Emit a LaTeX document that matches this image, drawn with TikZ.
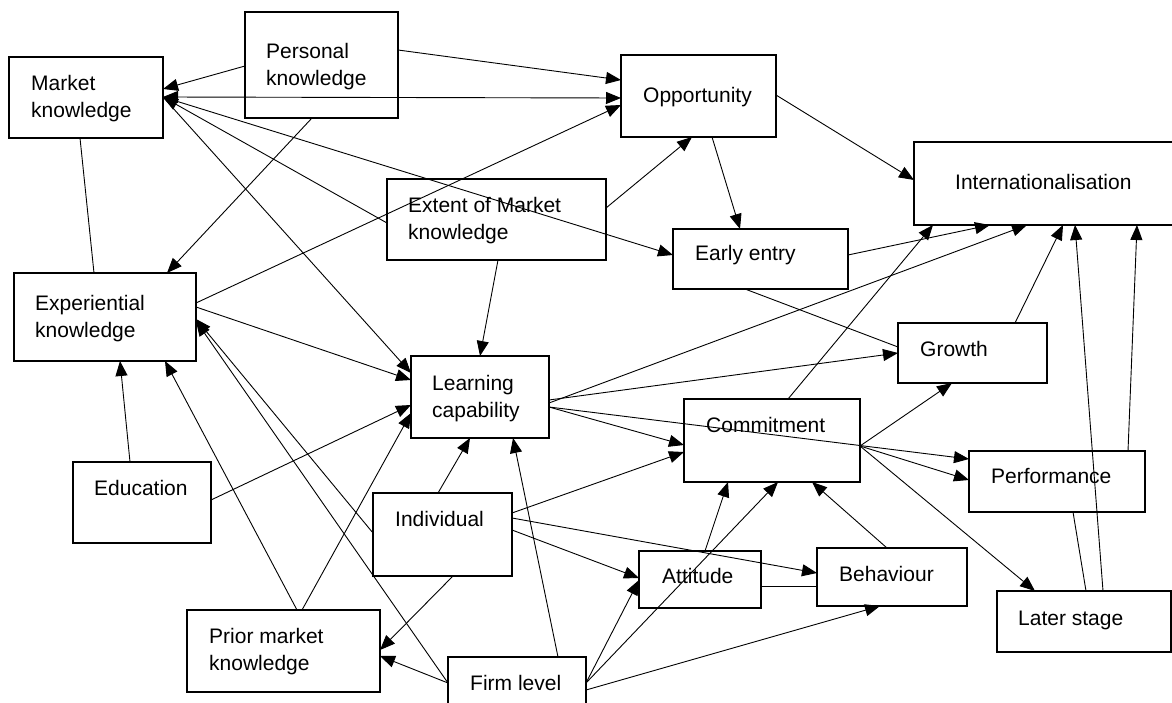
\documentclass[tikz,border=0pt]{standalone}
\usepackage{fontspec}
\setmainfont{Liberation Sans}
\usetikzlibrary{arrows.meta}
\newcommand{\twol}[2]{\begin{tabular}[t]{@{}l@{}}#1\\#2\end{tabular}}
\begin{document}
\begin{tikzpicture}[x=1pt,y=-1pt,
  box/.style={draw, line width=1.8pt, inner sep=0pt},
  lbl/.style={anchor=base west, inner sep=0pt, font=\fontsize{21}{27}\selectfont},
  ln/.style={line width=0.9pt},
  arr/.style={ln, -{Triangle[length=15pt,width=12pt]}},
  arrb/.style={ln, {Triangle[length=15pt,width=12pt]}-{Triangle[length=15pt,width=12pt]}}]
\useasboundingbox (0,0) rectangle (1172,703);
\clip (0,0) rectangle (1172,703);
% boxes
\node[box, minimum width=154pt, minimum height=81pt] (mk) at (86,97.5) {};
\node[box, minimum width=153pt, minimum height=106pt] (pk) at (321.5,65) {};
\node[box, minimum width=155pt, minimum height=82pt] (op) at (698.5,96) {};
\node[box, minimum width=262pt, minimum height=83pt] (in) at (1045,183.5) {};
\node[box, minimum width=219pt, minimum height=81pt] (ex) at (496.5,219.5) {};
\node[box, minimum width=175pt, minimum height=60pt] (ee) at (760.5,259) {};
\node[box, minimum width=149pt, minimum height=60pt] (gr) at (972.5,353) {};
\node[box, minimum width=182pt, minimum height=88pt] (xk) at (105,317) {};
\node[box, minimum width=138pt, minimum height=81pt] (ed) at (142,502.5) {};
\node[box, minimum width=138pt, minimum height=82pt] (lc) at (480,397) {};
\node[box, minimum width=176pt, minimum height=83pt] (co) at (772,440.5) {};
\node[box, minimum width=139pt, minimum height=83pt] (iv) at (442.5,534.5) {};
\node[box, minimum width=122pt, minimum height=57pt] (at) at (700,579.5) {};
\node[box, minimum width=138pt, minimum height=55pt] (fl) at (517,684.5) {};
\node[box, minimum width=193pt, minimum height=82pt] (pm) at (283.5,651) {};
\node[box, minimum width=150pt, minimum height=58pt] (bh) at (892,577) {};
\node[box, minimum width=176pt, minimum height=61pt] (pf) at (1057,481.5) {};
\node[box, minimum width=174pt, minimum height=61pt] (ls) at (1084,621.5) {};
% labels
\node[lbl] (mkt) at (31,91) {\twol{Market}{knowledge}};
\node[lbl] (pkt) at (266,59) {\twol{Personal}{knowledge}};
\node[lbl] (opt) at (643,103) {Opportunity};
\node[lbl] (int) at (955,190) {Internationalisation};
\node[lbl] (ext) at (408,213) {\twol{Extent of Market}{knowledge}};
\node[lbl] (eet) at (695,261) {Early entry};
\node[lbl] (grt) at (920,356) {Growth};
\node[lbl] (xkt) at (35,310) {\twol{Experiential}{knowledge}};
\node[lbl] (edt) at (94,495) {Education};
\node[lbl] (lct) at (432,390) {\twol{Learning}{capability}};
\node[lbl] (cot) at (706,432) {Commitment};
\node[lbl] (ivt) at (395,526) {Individual};
\node[lbl] (att) at (662,583) {Attitude};
\node[lbl] (flt) at (470,690) {Firm level};
\node[lbl] (pmt) at (209,643) {\twol{Prior market}{knowledge}};
\node[lbl] (bht) at (839,581) {Behaviour};
\node[lbl] (pft) at (991,483) {Performance};
\node[lbl] (lst) at (1018,625) {Later stage};
% connectors
\draw[arr] ([shift={(-76.5,1)}]pk.center) -- ([shift={(77,-8.5)}]mk.center);
\draw[arr] ([shift={(76.5,-15)}]pk.center) -- ([shift={(-77.5,-16)}]op.center);
\draw[arrb] ([shift={(77,-0.5)}]mk.center) -- ([shift={(-77.5,2)}]op.center);
\draw[arr] ([shift={(91,-14)}]xk.center) -- ([shift={(-77.5,9)}]op.center);
\draw[arr] ([shift={(-9.5,53)}]pk.center) -- ([shift={(62,-44)}]xk.center);
\draw[ln] ([shift={(-6,40.5)}]mk.center) -- ([shift={(-11,-44)}]xk.center);
\draw[arr] ([shift={(-109.5,3.5)}]ex.center) -- ([shift={(77,-0.5)}]mk.center);
\draw[arr] ([shift={(77,-0.5)}]mk.center) -- ([shift={(-87.5,-4)}]ee.center);
\draw[arr] ([shift={(77,-0.5)}]mk.center) -- ([shift={(-69,-24)}]lc.center);
\draw[arr] ([shift={(109.5,-11.5)}]ex.center) -- ([shift={(-6.5,41)}]op.center);
\draw[arr] ([shift={(13.5,41)}]op.center) -- ([shift={(-20.5,-30)}]ee.center);
\draw[arr] ([shift={(77.5,-1)}]op.center) -- ([shift={(-131,-3.5)}]in.center);
\draw[arr] ([shift={(1.5,40.5)}]ex.center) -- ([shift={(0,-41)}]lc.center);
\draw[arr] ([shift={(87.5,-4)}]ee.center) -- ([shift={(-55,41.5)}]in.center);
\draw[arr] ([shift={(69,6)}]lc.center) -- ([shift={(-18,41.5)}]in.center);
\draw[arr] ([shift={(16,-41.5)}]co.center) -- ([shift={(-112,41.5)}]in.center);
\draw[arr] ([shift={(42.5,-30)}]gr.center) -- ([shift={(18,41.5)}]in.center);
\draw[arr] ([shift={(19,-30.5)}]ls.center) -- ([shift={(30,41.5)}]in.center);
\draw[arr] ([shift={(71,-30.5)}]pf.center) -- ([shift={(92,41.5)}]in.center);
\draw[ln] ([shift={(16,30.5)}]pf.center) -- ([shift={(2,-30.5)}]ls.center);
\draw[ln] ([shift={(-15.5,30)}]ee.center) -- ([shift={(-74.5,-6)}]gr.center);
\draw[arr] ([shift={(69,3)}]lc.center) -- ([shift={(-74.5,0)}]gr.center);
\draw[arr] ([shift={(69,10)}]lc.center) -- ([shift={(-88,4.5)}]co.center);
\draw[arr] ([shift={(69,10)}]lc.center) -- ([shift={(-88,-22.5)}]pf.center);
\draw[arr] ([shift={(88,5.5)}]co.center) -- ([shift={(-20.5,30)}]gr.center);
\draw[arr] ([shift={(88,5.5)}]co.center) -- ([shift={(-88,-1.5)}]pf.center);
\draw[arr] ([shift={(88,5.5)}]co.center) -- ([shift={(-49,-30.5)}]ls.center);
\draw[arr] ([shift={(-5,-29)}]bh.center) -- ([shift={(40,41.5)}]co.center);
\draw[arr] ([shift={(5,-28.5)}]at.center) -- ([shift={(-44,41.5)}]co.center);
\draw[arr] ([shift={(69,-1.5)}]fl.center) -- ([shift={(6,41.5)}]co.center);
\draw[arr] ([shift={(69,-1.5)}]fl.center) -- ([shift={(-61,0.5)}]at.center);
\draw[arr] ([shift={(69,5.5)}]fl.center) -- ([shift={(-12,29)}]bh.center);
\draw[arr] ([shift={(41,-27.5)}]fl.center) -- ([shift={(33,41)}]lc.center);
\draw[arr] ([shift={(-4.5,-41.5)}]iv.center) -- ([shift={(-10,41)}]lc.center);
\draw[arr] ([shift={(69.5,-21.5)}]iv.center) -- ([shift={(-88,11.5)}]co.center);
\draw[arr] ([shift={(69.5,-4.5)}]iv.center) -- ([shift={(-61,-1.5)}]at.center);
\draw[arr] ([shift={(69.5,-16.5)}]iv.center) -- ([shift={(-75,-4)}]bh.center);
\draw[ln] ([shift={(61,6.5)}]at.center) -- ([shift={(-75,9)}]bh.center);
\draw[arr] ([shift={(10.5,41.5)}]iv.center) -- ([shift={(96.5,-1)}]pm.center);
\draw[arr] ([shift={(-69,-1.5)}]fl.center) -- ([shift={(96.5,5)}]pm.center);
\draw[arr] ([shift={(-69.5,-1.5)}]iv.center) -- ([shift={(91,2)}]xk.center);
\draw[arr] ([shift={(-69,-1.5)}]fl.center) -- ([shift={(91,4)}]xk.center);
\draw[arr] ([shift={(13.5,-41)}]pm.center) -- ([shift={(60,44)}]xk.center);
\draw[arr] ([shift={(18.5,-41)}]pm.center) -- ([shift={(-69,16)}]lc.center);
\draw[arr] ([shift={(69,-2.5)}]ed.center) -- ([shift={(-69,8)}]lc.center);
\draw[arr] ([shift={(-12,-40.5)}]ed.center) -- ([shift={(15,44)}]xk.center);
\draw[arr] ([shift={(91,-10)}]xk.center) -- ([shift={(-69,-17)}]lc.center);
\end{tikzpicture}
\end{document}
